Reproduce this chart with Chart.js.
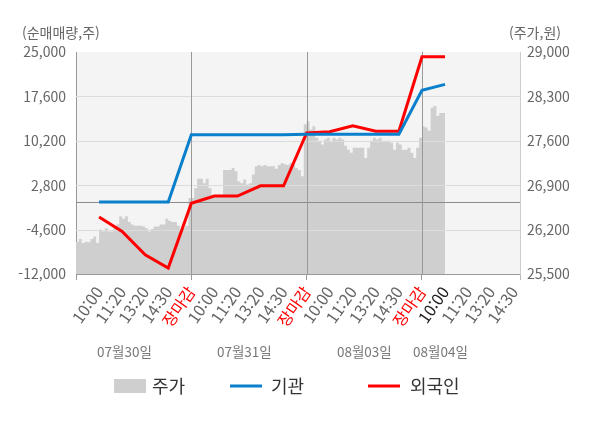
<!DOCTYPE html>
<html lang="ko">
<head>
<meta charset="UTF-8">
<title>기관 / 외국인 순매매량</title>
<script src="https://cdn.jsdelivr.net/npm/chart.js"></script>
<style>
  html, body { margin: 0; padding: 0; background: #fff; }
  .wrap { width: 600px; height: 428px; }
</style>
</head>
<body>
<div class="wrap"><canvas id="chart" width="600" height="428"></canvas></div>
<script>
// x tick labels, one per slot index (0 = left edge)
const xTickLabels = ['', '10:00', '11:20', '13:20', '14:30', '장마감',
  '10:00', '11:20', '13:20', '14:30', '장마감',
  '10:00', '11:20', '13:20', '14:30', '장마감',
  '10:00', '11:20', '13:20', '14:30'];
const dayLabels = ['07월30일', '07월31일', '08월03일', '08월04일'];
const leftTicks = [-12000, -4600, 2800, 10200, 17600, 25000];
const rightTicks = [25500, 26200, 26900, 27600, 28300, 29000];

// 기관 / 외국인 net volume, slots 1..16
const instNet = [0, 0, 0, 0, 11200, 11200, 11200, 11200, 11200, 11300, 11300, 11300, 11300, 11300, 18600, 19600];
const foreignNet = [-2500, -4900, -8800, -11000, -200, 1000, 1000, 2700, 2700, 11500, 11700, 12700, 11800, 11800, 24200, 24200];

// 주가, eighth-slot steps from slot 0
const price = [
  // 07/30
  25910, 26010, 26050, 25990, 26010, 26000, 26050, 26090, 25990, 26200,
  26170, 26220, 26170, 26170, 26240, 26280, 26410, 26370, 26410, 26320,
  26280, 26260, 26260, 26260, 26250, 26220, 26170, 26210, 26250, 26250,
  26280, 26280, 26370, 26340, 26320, 26320, 26260, 26180, 26230, 26260,
  // 07/31
  26700, 26700, 26850, 27000, 27000, 26930, 27000, 26850, 26750, 26720,
  26750, 26720, 27140, 27140, 27140, 27170, 27120, 26960, 26930, 26990,
  26910, 26930, 27070, 27200, 27220, 27200, 27220, 27200, 27200, 27200,
  27160, 27220, 27250, 27230, 27220, 27250, 27220, 27170, 27140, 27040,
  // 08/03
  27860, 27910, 27780, 27830, 27650, 27600, 27540, 27620, 27650, 27600,
  27650, 27620, 27650, 27620, 27520, 27460, 27410, 27490, 27490, 27490,
  27490, 27330, 27490, 27600, 27650, 27620, 27650, 27600, 27600, 27600,
  27570, 27460, 27570, 27540, 27460, 27460, 27490, 27410, 27330, 27490,
  // 08/04
  27650, 27830, 27810, 27760, 28120, 28150, 27990, 28040, 28040
];
const PRICE_STEP = 0.125;
const FIRST_LINE_SLOT = 1;
const X_MAX = 19.25;
const dayBreaks = [5, 10, 15];
const currentSlot = 16;

const FONT = "'Noto Sans CJK KR', 'Noto Sans', sans-serif";

const overlay = {
  id: 'overlay',
  beforeDraw(chart) {
    const { ctx, chartArea: a } = chart;
    ctx.save();
    ctx.fillStyle = '#f4f4f4';
    ctx.fillRect(a.left, a.top, a.right - a.left, a.bottom - a.top);
    ctx.restore();
  },
  afterDatasetDraw(chart, args) {
    if (args.index !== 0) return; // grid goes over the price area, under the lines
    const { ctx, chartArea: a, scales } = chart;
    const y = scales.y, x = scales.x;
    ctx.save();
    ctx.lineWidth = 1;
    ctx.strokeStyle = '#dcdcdc';
    leftTicks.forEach(v => {
      if (v === y.min || v === y.max) return;
      const py = Math.round(y.getPixelForValue(v)) + 0.5;
      ctx.beginPath(); ctx.moveTo(a.left, py); ctx.lineTo(a.right, py); ctx.stroke();
    });
    ctx.strokeStyle = '#8c8c8c';
    const zy = Math.round(y.getPixelForValue(0)) + 0.5;
    ctx.beginPath(); ctx.moveTo(a.left, zy); ctx.lineTo(a.right, zy); ctx.stroke();
    ctx.strokeStyle = '#999';
    dayBreaks.forEach(v => {
      const px = Math.round(x.getPixelForValue(v)) + 0.5;
      ctx.beginPath(); ctx.moveTo(px, a.top); ctx.lineTo(px, a.bottom); ctx.stroke();
    });
    ctx.restore();
  },
  afterDraw(chart) {
    const { ctx, scales } = chart;
    ctx.save();
    ctx.fillStyle = '#666';
    ctx.font = '14px ' + FONT;
    ctx.textBaseline = 'middle';
    ctx.textAlign = 'left';
    ctx.fillText('(순매매량,주)', 22, 33);
    ctx.fillText('(주가,원)', 509, 33);

    // day labels under the time ticks
    ctx.fillStyle = '#777';
    ctx.font = '13.5px ' + FONT;
    ctx.textAlign = 'center';
    const dayPos = [2.1, 7.3, 12.5, 15.8];
    dayLabels.forEach((d, i) => {
      ctx.fillText(d, scales.x.getPixelForValue(dayPos[i]), 352);
    });

    // legend
    const ly = 386;
    ctx.font = '18px ' + FONT;
    ctx.textAlign = 'left';
    ctx.fillStyle = '#cfcfcf';
    ctx.fillRect(114, 379, 32, 14);
    ctx.fillStyle = '#333';
    ctx.fillText('주가', 152, ly);
    ctx.fillStyle = '#0a7fcc';
    ctx.fillRect(230, 384.5, 32, 3);
    ctx.fillStyle = '#333';
    ctx.fillText('기관', 271, ly);
    ctx.fillStyle = '#ff0000';
    ctx.fillRect(368, 384.5, 32, 3);
    ctx.fillStyle = '#333';
    ctx.fillText('외국인', 410, ly);
    ctx.restore();
  }
};

const priceData = price.map((v, i) => ({ x: i * PRICE_STEP, y: v }));
const instData = instNet.map((v, i) => ({ x: i + FIRST_LINE_SLOT, y: v }));
const foreignData = foreignNet.map((v, i) => ({ x: i + FIRST_LINE_SLOT, y: v }));

new Chart(document.getElementById('chart'), {
  type: 'line',
  data: {
    datasets: [
      {
        label: '주가', data: priceData, yAxisID: 'y2', order: 2,
        stepped: 'after', fill: 'start', backgroundColor: '#cfcfcf',
        borderWidth: 0, pointRadius: 0
      },
      {
        label: '기관', data: instData, yAxisID: 'y', order: 0,
        borderColor: '#0a7fcc', borderWidth: 3, pointRadius: 0, tension: 0, fill: false
      },
      {
        label: '외국인', data: foreignData, yAxisID: 'y', order: 1,
        borderColor: '#ff0000', borderWidth: 3, pointRadius: 0, tension: 0, fill: false
      }
    ]
  },
  options: {
    responsive: false,
    animation: false,
    layout: { padding: { top: 52, left: 0, right: 0, bottom: 0 } },
    plugins: { legend: { display: false }, tooltip: { enabled: false } },
    scales: {
      x: {
        type: 'linear', min: 0, max: X_MAX,
        afterBuildTicks: s => { s.ticks = xTickLabels.map((_, i) => ({ value: i })).concat([{ value: X_MAX }]); },
        afterFit: s => { s.height = 154; },
        border: { color: '#999' },
        grid: {
          drawOnChartArea: false, drawTicks: true, tickLength: 6,
          color: c => {
            const v = c.tick && c.tick.value;
            if (v === 0 || dayBreaks.includes(v)) return '#999';
            if (v === X_MAX) return '#bbb';
            return 'rgba(0,0,0,0)';
          }
        },
        ticks: {
          autoSkip: false, minRotation: 55, maxRotation: 55, padding: 3,
          font: { size: 16, family: FONT },
          color: c => {
            const l = xTickLabels[c.tick.value];
            if (l === '장마감') return '#ff0000';
            if (c.tick.value === currentSlot) return '#222';
            return '#666';
          },
          callback: v => xTickLabels[v] || ''
        }
      },
      y: {
        position: 'left', min: leftTicks[0], max: leftTicks[leftTicks.length - 1],
        afterBuildTicks: s => { s.ticks = leftTicks.map(v => ({ value: v })); },
        afterFit: s => { s.width = 76; },
        border: { color: '#999' },
        grid: { drawOnChartArea: false, drawTicks: false },
        ticks: {
          padding: 10, color: '#666', font: { size: 14, family: FONT },
          callback: v => v.toLocaleString('en-US')
        }
      },
      y2: {
        position: 'right', min: rightTicks[0], max: rightTicks[rightTicks.length - 1],
        afterBuildTicks: s => { s.ticks = rightTicks.map(v => ({ value: v })); },
        afterFit: s => { s.width = 80; },
        border: { color: '#cccccc' },
        grid: { drawOnChartArea: false, drawTicks: false },
        ticks: {
          padding: 7, color: '#666', font: { size: 14, family: FONT },
          callback: v => v.toLocaleString('en-US')
        }
      }
    }
  },
  plugins: [overlay]
});
</script>
</body>
</html>
